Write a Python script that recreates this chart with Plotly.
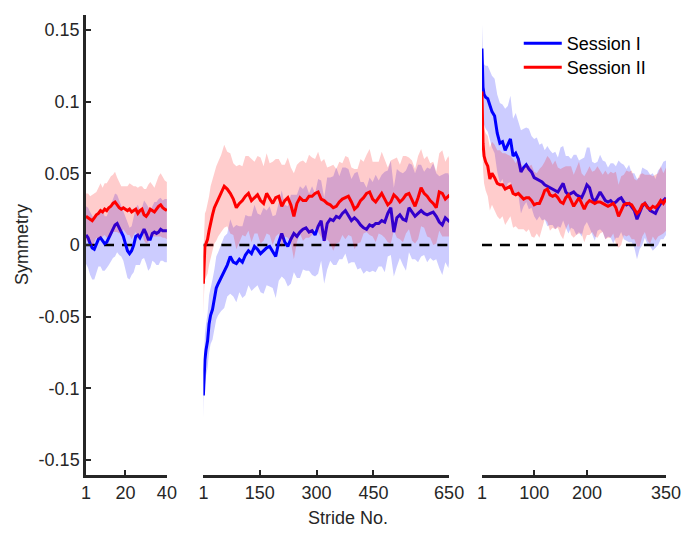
import numpy as np
import plotly.graph_objects as go

# ---------------- data ----------------
# Panel 1 (baseline), strides 1..40
p1_x = list(range(1, 41))
p1_blue = [0.007, 0.005, 0.001, -0.002, -0.003, 0.000, 0.004, 0.005, 0.003, 0.001,
           0.002, 0.005, 0.008, 0.012, 0.014, 0.015, 0.012, 0.010, 0.006, 0.001,
           -0.004, -0.006, -0.004, 0.000, 0.006, 0.007, 0.005, 0.008, 0.011, 0.008,
           0.004, 0.004, 0.008, 0.009, 0.008, 0.009, 0.011, 0.010, 0.010, 0.010]
p1_blue_sd = [0.020, 0.021, 0.022, 0.022, 0.021, 0.020, 0.019, 0.020, 0.021, 0.019,
              0.018, 0.019, 0.020, 0.021, 0.022, 0.020, 0.019, 0.018, 0.017, 0.018,
              0.019, 0.018, 0.017, 0.019, 0.020, 0.021, 0.019, 0.018, 0.020, 0.021,
              0.022, 0.020, 0.019, 0.021, 0.022, 0.023, 0.022, 0.021, 0.022, 0.022]
p1_red = [0.020, 0.019, 0.018, 0.017, 0.019, 0.021, 0.022, 0.024, 0.023, 0.025,
          0.024, 0.026, 0.027, 0.029, 0.030, 0.028, 0.026, 0.025, 0.026, 0.025,
          0.024, 0.025, 0.023, 0.024, 0.025, 0.022, 0.024, 0.025, 0.021, 0.020,
          0.022, 0.025, 0.024, 0.023, 0.025, 0.027, 0.028, 0.026, 0.025, 0.024]
p1_red_sd = [0.016, 0.017, 0.016, 0.018, 0.017, 0.016, 0.018, 0.019, 0.017, 0.018,
             0.019, 0.020, 0.021, 0.020, 0.021, 0.019, 0.018, 0.016, 0.015, 0.016,
             0.017, 0.018, 0.019, 0.017, 0.016, 0.018, 0.017, 0.016, 0.018, 0.019,
             0.020, 0.019, 0.018, 0.017, 0.019, 0.021, 0.022, 0.021, 0.020, 0.020]

# Panel 2 (adaptation), strides 1..650
p2_x = [1, 3, 5, 8, 12, 16, 20, 25, 30, 35, 40] + list(range(48, 649, 8)) + [650]
p2_blue = [-0.105, -0.085, -0.080, -0.073, -0.067, -0.055, -0.049, -0.045, -0.038, -0.030, -0.027,
           -0.023, -0.019, -0.014, -0.008, -0.012, -0.013, -0.010, -0.012, -0.007, -0.004,
           -0.006, -0.001, -0.003, -0.006, -0.004, -0.002, -0.001, -0.005, -0.008, 0.002,
           0.008, 0.002, -0.001, 0.004, 0.008, 0.006, 0.009, 0.011, 0.012, 0.009,
           0.010, 0.007, 0.013, 0.017, 0.003, 0.015, 0.018, 0.017, 0.020, 0.019,
           0.022, 0.024, 0.020, 0.017, 0.019, 0.017, 0.014, 0.012, 0.011, 0.014,
           0.013, 0.015, 0.015, 0.017, 0.016, 0.022, 0.026, 0.009, 0.019, 0.021,
           0.018, 0.017, 0.026, 0.023, 0.020, 0.022, 0.024, 0.022, 0.021, 0.022,
           0.023, 0.020, 0.016, 0.014, 0.019, 0.017,
           0.018]
p2_blue_sd = [0.016, 0.017, 0.018, 0.018, 0.019, 0.020, 0.020, 0.021, 0.021, 0.022, 0.022,
              0.023, 0.025, 0.022, 0.026, 0.024, 0.027, 0.023, 0.025, 0.028, 0.024,
              0.026, 0.029, 0.025, 0.027, 0.030, 0.026, 0.028, 0.025, 0.029, 0.027,
              0.030, 0.026, 0.028, 0.031, 0.027, 0.029, 0.032, 0.028, 0.030, 0.027,
              0.031, 0.029, 0.033, 0.028, 0.030, 0.032, 0.029, 0.031, 0.034, 0.029,
              0.032, 0.030, 0.033, 0.029, 0.031, 0.034, 0.030, 0.032, 0.029, 0.033,
              0.031, 0.034, 0.030, 0.032, 0.035, 0.030, 0.033, 0.031, 0.034, 0.030,
              0.032, 0.035, 0.031, 0.033, 0.030, 0.034, 0.032, 0.029, 0.033, 0.031,
              0.034, 0.030, 0.032, 0.035, 0.031, 0.033,
              0.030]
p2_red = [-0.027, -0.010, -0.001, 0.001, 0.004, 0.010, 0.016, 0.021, 0.026, 0.029, 0.032,
          0.036, 0.041, 0.039, 0.036, 0.032, 0.026, 0.029, 0.031, 0.034, 0.036,
          0.031, 0.033, 0.035, 0.031, 0.029, 0.036, 0.032, 0.029, 0.033, 0.034,
          0.027, 0.031, 0.033, 0.028, 0.020, 0.029, 0.033, 0.031, 0.031, 0.034,
          0.034, 0.036, 0.037, 0.032, 0.031, 0.029, 0.028, 0.026, 0.027, 0.030,
          0.032, 0.033, 0.034, 0.030, 0.025, 0.027, 0.031, 0.033, 0.036, 0.037,
          0.032, 0.030, 0.033, 0.036, 0.032, 0.028, 0.030, 0.035, 0.033, 0.030,
          0.032, 0.035, 0.036, 0.031, 0.027, 0.033, 0.040, 0.036, 0.034, 0.031,
          0.029, 0.026, 0.037, 0.036, 0.032, 0.034,
          0.033]
p2_red_sd = [0.022, 0.022, 0.023, 0.023, 0.024, 0.024, 0.025, 0.025, 0.025, 0.026, 0.026,
             0.027, 0.029, 0.026, 0.028, 0.025, 0.029, 0.027, 0.024, 0.028, 0.026,
             0.029, 0.025, 0.027, 0.030, 0.026, 0.028, 0.025, 0.029, 0.027, 0.026,
             0.029, 0.025, 0.028, 0.026, 0.030, 0.027, 0.025, 0.028, 0.026, 0.029,
             0.027, 0.024, 0.028, 0.026, 0.029, 0.025, 0.027, 0.030, 0.026, 0.028,
             0.025, 0.029, 0.027, 0.024, 0.028, 0.026, 0.029, 0.025, 0.027, 0.030,
             0.026, 0.028, 0.025, 0.029, 0.027, 0.026, 0.029, 0.025, 0.028, 0.026,
             0.030, 0.027, 0.025, 0.028, 0.026, 0.029, 0.027, 0.024, 0.028, 0.026,
             0.029, 0.025, 0.027, 0.030, 0.026, 0.028,
             0.027]

# Panel 3 (post-adaptation), strides 1..350
p3_x = [1, 2, 3, 5, 8, 12, 16, 20, 25, 30] + list(range(35, 346, 5)) + [350]
p3_blue = [0.137, 0.124, 0.110, 0.105, 0.103, 0.102, 0.097, 0.093, 0.090, 0.078,
           0.071, 0.072, 0.066, 0.070, 0.074, 0.062, 0.064, 0.060, 0.051, 0.054,
           0.056, 0.053, 0.051, 0.047, 0.046, 0.045, 0.044, 0.042, 0.041, 0.040,
           0.039, 0.038, 0.037, 0.040, 0.043, 0.037, 0.035, 0.036, 0.037, 0.035,
           0.034, 0.033, 0.037, 0.042, 0.040, 0.033, 0.030, 0.034, 0.037, 0.034,
           0.031, 0.030, 0.031, 0.029, 0.030, 0.032, 0.033, 0.030, 0.028, 0.029,
           0.026, 0.024, 0.018, 0.022, 0.027, 0.029, 0.026, 0.024, 0.023, 0.022,
           0.026, 0.029, 0.031,
           0.033]
p3_blue_sd = [0.018, 0.019, 0.020, 0.021, 0.022, 0.023, 0.024, 0.025, 0.026, 0.027,
              0.028, 0.026, 0.029, 0.027, 0.030, 0.026, 0.028, 0.025, 0.029, 0.027,
              0.026, 0.028, 0.025, 0.027, 0.029, 0.025, 0.027, 0.024, 0.028, 0.026,
              0.025, 0.027, 0.024, 0.028, 0.026, 0.025, 0.027, 0.024, 0.026, 0.028,
              0.025, 0.027, 0.024, 0.026, 0.028, 0.025, 0.027, 0.024, 0.026, 0.025,
              0.027, 0.024, 0.026, 0.028, 0.025, 0.027, 0.024, 0.026, 0.025, 0.027,
              0.024, 0.026, 0.028, 0.025, 0.027, 0.024, 0.026, 0.025, 0.027, 0.024,
              0.026, 0.025, 0.027,
              0.026]
p3_red = [0.107, 0.087, 0.071, 0.062, 0.058, 0.055, 0.046, 0.050, 0.047, 0.043,
          0.042, 0.042, 0.039, 0.040, 0.041, 0.036, 0.035, 0.036, 0.034, 0.032,
          0.033, 0.033, 0.031, 0.028, 0.029, 0.029, 0.033, 0.038, 0.039, 0.035,
          0.034, 0.035, 0.033, 0.030, 0.029, 0.033, 0.035, 0.031, 0.027, 0.030,
          0.033, 0.029, 0.025, 0.029, 0.031, 0.030, 0.029, 0.030, 0.030, 0.029,
          0.028, 0.027, 0.028, 0.029, 0.026, 0.020, 0.024, 0.028, 0.029, 0.029,
          0.028, 0.025, 0.022, 0.024, 0.028, 0.029, 0.026, 0.025, 0.027, 0.026,
          0.028, 0.031, 0.029,
          0.032]
p3_red_sd = [0.015, 0.017, 0.018, 0.019, 0.020, 0.021, 0.022, 0.022, 0.023, 0.023,
             0.024, 0.022, 0.025, 0.023, 0.021, 0.024, 0.022, 0.025, 0.023, 0.021,
             0.024, 0.022, 0.025, 0.023, 0.021, 0.024, 0.022, 0.020, 0.023, 0.025,
             0.022, 0.024, 0.021, 0.023, 0.025, 0.022, 0.020, 0.024, 0.022, 0.023,
             0.025, 0.021, 0.023, 0.022, 0.024, 0.021, 0.023, 0.025, 0.022, 0.020,
             0.024, 0.022, 0.023, 0.021, 0.025, 0.022, 0.024, 0.021, 0.023, 0.022,
             0.024, 0.021, 0.023, 0.025, 0.022, 0.020, 0.023, 0.024, 0.021, 0.023,
             0.022, 0.024, 0.021,
             0.022]

x_tickvals = [[1, 20, 40], [1, 150, 300, 450, 650], [1, 100, 200, 350]]
y_tickvals = [-0.15, -0.1, -0.05, 0, 0.05, 0.1, 0.15]
y_ticktext = ["-0.15", "-0.1", "-0.05", "0", "0.05", "0.1", "0.15"]
series_names = ["Session I", "Session II"]

# ---------------- styling ----------------
FONT = "Liberation Sans, Arial, Helvetica, sans-serif"
INK = "#262626"
BLUE = "#0000ff"
RED = "#ff0000"
BLUE_FILL = "rgba(0,0,255,0.2)"
RED_FILL = "rgba(255,0,0,0.2)"

W, H = 693, 533
ML, MR, MT, MB = 86, 24, 15, 58
PW, PH = W - ML - MR, H - MT - MB
panel_px = [(86, 167.3), (204, 451), (484, 669)]
domains = [[(a - ML) / PW, (b - ML) / PW] for a, b in panel_px]

panels = [
    (p1_x, p1_blue, p1_blue_sd, p1_red, p1_red_sd),
    (p2_x, p2_blue, p2_blue_sd, p2_red, p2_red_sd),
    (p3_x, p3_blue, p3_blue_sd, p3_red, p3_red_sd),
]

fig = go.Figure()


def band(x, m, s, fill, xa):
    x = np.asarray(x, float)
    m = np.asarray(m, float)
    s = np.asarray(s, float)
    xs = np.concatenate([x, x[::-1]])
    ys = np.concatenate([m + s, (m - s)[::-1]])
    return go.Scatter(x=xs, y=ys, xaxis=xa, yaxis="y", fill="toself",
                      fillcolor=fill, line=dict(width=0), mode="lines",
                      hoverinfo="skip", showlegend=False)


for i, (x, bm, bs, rm, rs) in enumerate(panels):
    xa = "x" if i == 0 else f"x{i+1}"
    last = i == len(panels) - 1
    fig.add_trace(band(x, bm, bs, BLUE_FILL, xa))
    fig.add_trace(go.Scatter(x=[x[0], x[-1]], y=[0, 0], xaxis=xa, yaxis="y",
                             mode="lines", line=dict(color="black", width=2.5, dash="10px,8px"),
                             showlegend=False, hoverinfo="skip"))
    fig.add_trace(go.Scatter(x=x, y=bm, xaxis=xa, yaxis="y", mode="lines",
                             line=dict(color=BLUE, width=3), name=series_names[0],
                             legend="legend", showlegend=last))
    fig.add_trace(band(x, rm, rs, RED_FILL, xa))
    fig.add_trace(go.Scatter(x=x, y=rm, xaxis=xa, yaxis="y", mode="lines",
                             line=dict(color=RED, width=3), name=series_names[1],
                             legend="legend2", showlegend=last))

axis_common = dict(showline=True, linewidth=2.5, linecolor=INK, ticks="inside",
                   ticklen=5, tickwidth=2, tickcolor=INK, showgrid=False, zeroline=False,
                   tickfont=dict(family=FONT, size=18, color=INK))

legend_common = dict(xanchor="left", yanchor="top", bgcolor="rgba(0,0,0,0)",
                     borderwidth=0, itemwidth=38,
                     font=dict(family=FONT, size=18, color="black"))

layout = dict(
    width=W, height=H,
    margin=dict(l=ML, r=MR, t=MT, b=MB, pad=0),
    paper_bgcolor="white", plot_bgcolor="white",
    showlegend=True,
    legend=dict(x=(521 - ML) / PW, y=(475 - 25) / PH, **legend_common),
    legend2=dict(x=(521 - ML) / PW, y=(475 - 49) / PH, **legend_common),
    yaxis=dict(range=[-0.1604, 0.1604], domain=[0, 1], anchor="x",
               tickvals=y_tickvals, ticktext=y_ticktext, **axis_common),
)
for i, dom in enumerate(domains):
    key = "xaxis" if i == 0 else f"xaxis{i+1}"
    xv = panels[i][0]
    layout[key] = dict(domain=dom, anchor="y", range=[xv[0], xv[-1]],
                       tickvals=x_tickvals[i], ticktext=[str(v) for v in x_tickvals[i]],
                       **axis_common)

layout["annotations"] = [
    dict(text="Symmetry", xref="paper", yref="paper", x=(21.7 - ML) / PW, y=0.5,
         textangle=-90, showarrow=False, xanchor="center", yanchor="middle",
         font=dict(family=FONT, size=18, color=INK)),
    dict(text="Stride No.", xref="paper", yref="paper", x=(349 - ML) / PW,
         y=(475 - 518) / PH, showarrow=False, xanchor="center", yanchor="middle",
         font=dict(family=FONT, size=18, color=INK)),
]
fig.update_layout(**layout)
fig.write_html("out.html", config={"displayModeBar": False},
               post_script="document.body.style.margin='0px';")
